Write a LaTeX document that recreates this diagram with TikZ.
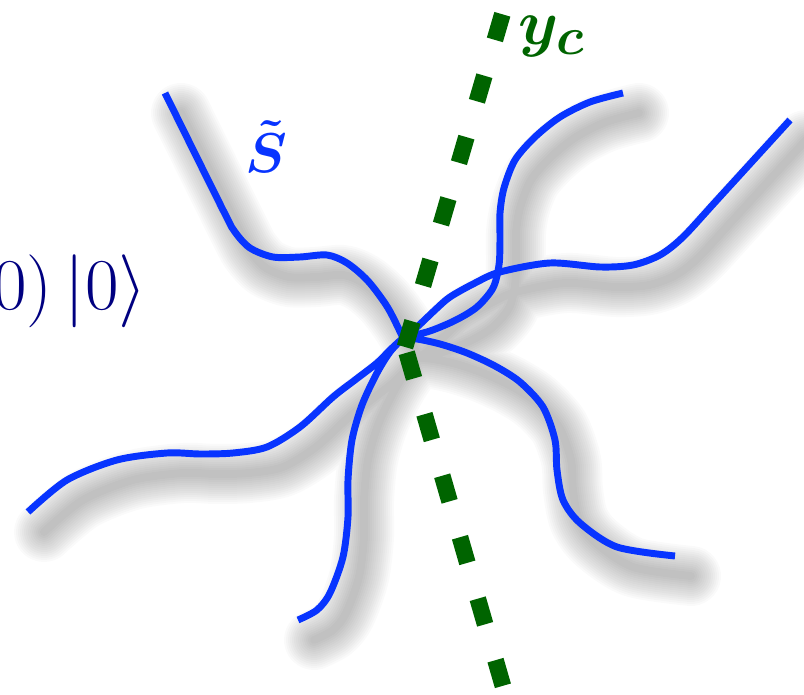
\documentclass[tikz,border=0pt]{standalone}
\usepackage{amsmath,amssymb}
\usepackage{graphicx}
\usepackage{tikz}
\usetikzlibrary{arrows.meta,positioning}
\usepackage{xcolor}

\definecolor{curveblue}{RGB}{8,52,255}
\definecolor{cutgreen}{RGB}{0,100,0}
\definecolor{statenavy}{RGB}{0,0,128}

% the six branches of the surface, all leaving the crossing point
\newcommand{\drawbranches}[1]{%
  \draw[#1]
    plot[smooth] coordinates {(403,338) (388,308) (368,281) (347,263) (327,255) (300,257) (273,257) (250,248) (235,232) (224,212) (165,93)}
    plot[smooth] coordinates {(403,338) (417,339) (440,344) (467,353) (495,366) (520,382) (543,407) (555,440) (557,470) (563,500) (580,523) (617,547) (675,556)}
    plot[smooth] coordinates {(403,338) (430,331) (456,320) (477,307) (493,288) (499,265) (500,240) (500,213) (504,188) (515,160) (535,137) (560,117) (590,102) (623,93)}
    plot[smooth] coordinates {(403,338) (390,352) (377,373) (362,405) (352,440) (348,480) (348,517) (343,557) (330,593) (317,610) (298,620)}
    plot[smooth] coordinates {(403,338) (417,327) (435,310) (450,297) (475,283) (500,272) (550,263) (600,267) (633,265) (660,255) (683,237) (717,200) (790,120)}
    plot[smooth] coordinates {(403,338) (390,350) (377,363) (355,380) (333,397) (300,427) (267,447) (233,453) (200,454) (167,453) (117,460) (67,480) (28,512)};
}

\begin{document}
\begin{tikzpicture}[
  x=0.75pt, y=-0.75pt,
  branch/.style={draw=curveblue, line width=5.2pt},
  halo/.style={draw=black, draw opacity=0.021, line cap=round, line join=round},
  cut/.style={draw=cutgreen, line width=12.5pt, dash pattern=on 20pt off 28pt},
  lbl/.style={inner sep=0pt, font=\Huge}
]
\useasboundingbox (0,0) rectangle (804,695);

% soft shadow under the curves
\begin{scope}[shift={(16,20)}]
  \foreach \i [evaluate=\i as \w using 3+3*\i] in {1,...,14}{
    \drawbranches{halo, line width=\w pt}
  }
\end{scope}

\drawbranches{branch}

% the cut
\coordinate (kink) at (405,347);
\coordinate (cuttop) at (508,-5);
\coordinate (cutbot) at (507,700);
\draw[cut] (kink) -- (cuttop);
\draw[cut, dash phase=43.5pt] (kink) -- (cutbot);

\node[lbl, anchor=base, text=curveblue] (surf) at (266,173) {\scalebox{1.69}{$\boldsymbol{\tilde{S}}$}};
\node[lbl, anchor=base west, text=cutgreen] (cutlbl) at (518,45) {\scalebox{1.93}{$\boldsymbol{y_c}$}};
\node[lbl, anchor=base west, text=statenavy] (state) at (-7,310) {\scalebox{2.2}{$0)\,\vert 0\rangle$}};

\end{tikzpicture}
\end{document}
